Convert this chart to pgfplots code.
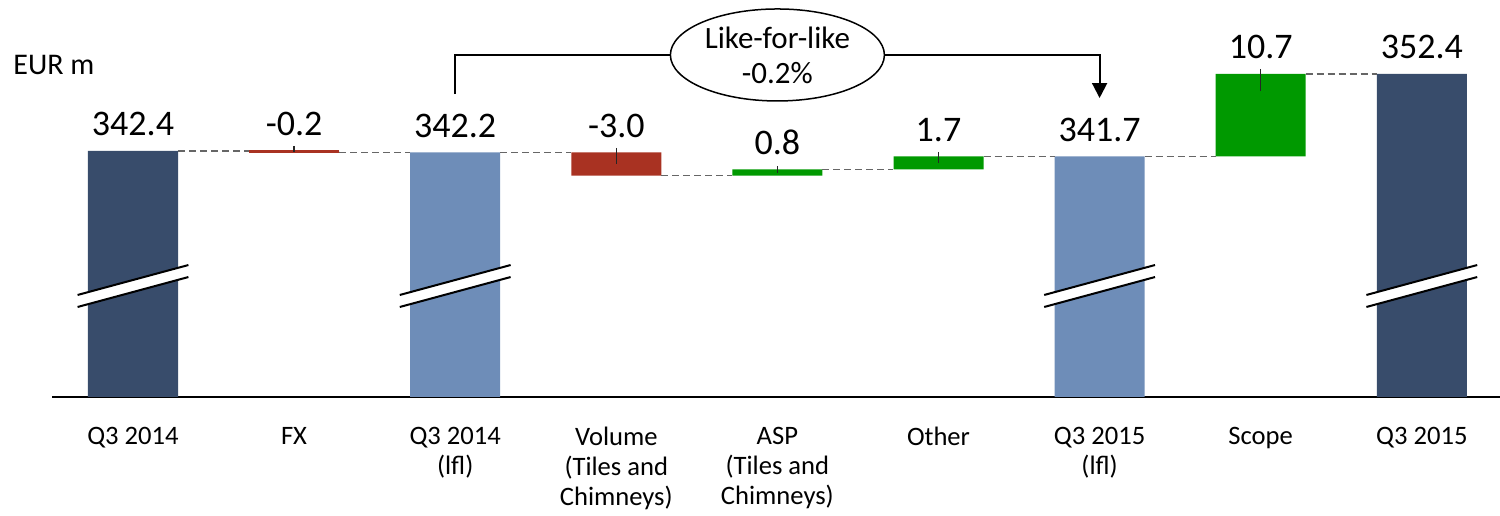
\documentclass[border=0pt]{standalone}
\usepackage{pgfplots}
\pgfplotsset{compat=1.18}
\usepackage{pgfplotstable}
\usepackage{fontspec}
\setmainfont{Carlito}
\usetikzlibrary{shapes.geometric, arrows.meta}
\definecolor{navy}{HTML}{384C6B}
\definecolor{lblue}{HTML}{6E8DB8}
\definecolor{wred}{HTML}{A93222}
\definecolor{wgreen}{HTML}{009900}
\definecolor{dgrey}{HTML}{666666}

\pgfplotsset{wfbase/.style={scale only axis, width=724pt, height=198.5pt,
  xmin=-0.5028, xmax=8.4854, ymin=310.45, ymax=362.01, at={(0,0)}, anchor=south west}}
\tikzset{
  conn/.style={dgrey, dash pattern=on 3.5pt off 2pt, line width=0.8pt},
  lead/.style={black!85, line width=0.75pt},
  vl/.style={anchor=base, yshift=7.5pt, font=\fontsize{18}{20}\selectfont, inner sep=0pt}
}

\pgfplotstableread{
x base dark light red green
0 0     342.4 0     0   0
1 342.2 0     0     0.2 0
2 0     0     342.2 0   0
3 339.2 0     0     3.0 0
4 339.2 0     0     0   0.8
5 340.0 0     0     0   1.7
6 0     0     341.7 0   0
7 341.7 0     0     0   10.7
8 0     352.4 0     0   0
}\wf

\begin{document}
\begin{tikzpicture}
\path[use as bounding box] (-26pt,-59pt) rectangle (724pt,198.5pt);
\begin{axis}[wfbase, ybar stacked, bar width=0.5587,
  axis x line*=bottom, axis y line=none,
  axis line style={line width=1pt, black},
  xtick={0,...,8},
  xticklabels={{Q3 2014},{FX},{Q3 2014\\(lfl)},{Volume\\(Tiles and\\Chimneys)},{ASP\\(Tiles and\\Chimneys)},{Other},{Q3 2015\\(lfl)},{Scope},{Q3 2015}},
  xticklabel style={align=center, font=\fontsize{13.3}{15}\selectfont, anchor=north, inner sep=0pt, yshift=-15pt},
  major tick length=0pt, ytick=\empty]
\addplot[draw=none, fill=none] table[x=x,y=base]{\wf};
\addplot[draw=none, fill=navy] table[x=x,y=dark]{\wf};
\addplot[draw=none, fill=lblue] table[x=x,y=light]{\wf};
\addplot[draw=none, fill=wred] table[x=x,y=red]{\wf};
\addplot[draw=none, fill=wgreen] table[x=x,y=green]{\wf};
\end{axis}
\begin{axis}[wfbase, hide axis, clip=false]
% thin FX bar made visible like the reference
\addplot[wred, line width=1.4pt] coordinates {(0.7206,342.3)(1.2794,342.3)};
% broken-axis marks
\addplot[fill=white, draw=none] coordinates {(-0.344,322.14)(0.344,326.03)(0.344,327.59)(-0.344,323.70)} -- cycle;
\addplot[fill=white, draw=none] coordinates {(1.656,322.14)(2.344,326.03)(2.344,327.59)(1.656,323.70)} -- cycle;
\addplot[fill=white, draw=none] coordinates {(5.656,322.14)(6.344,326.03)(6.344,327.59)(5.656,323.70)} -- cycle;
\addplot[fill=white, draw=none] coordinates {(7.656,322.14)(8.344,326.03)(8.344,327.59)(7.656,323.70)} -- cycle;
\addplot[black, line width=1pt] coordinates {(-0.344,322.14)(0.344,326.03)};
\addplot[black, line width=1pt] coordinates {(-0.344,323.70)(0.344,327.59)};
\addplot[black, line width=1pt] coordinates {(1.656,322.14)(2.344,326.03)};
\addplot[black, line width=1pt] coordinates {(1.656,323.70)(2.344,327.59)};
\addplot[black, line width=1pt] coordinates {(5.656,322.14)(6.344,326.03)};
\addplot[black, line width=1pt] coordinates {(5.656,323.70)(6.344,327.59)};
\addplot[black, line width=1pt] coordinates {(7.656,322.14)(8.344,326.03)};
\addplot[black, line width=1pt] coordinates {(7.656,323.70)(8.344,327.59)};
% connectors
\addplot[conn] coordinates {(0.2794,342.4)(0.7206,342.4)};
\addplot[conn] coordinates {(1.2794,342.2)(1.7206,342.2)};
\addplot[conn] coordinates {(2.2794,342.2)(2.7206,342.2)};
\addplot[conn] coordinates {(3.2794,339.2)(3.7206,339.2)};
\addplot[conn] coordinates {(4.2794,340.0)(4.7206,340.0)};
\addplot[conn] coordinates {(5.2794,341.7)(5.7206,341.7)};
\addplot[conn] coordinates {(6.2794,341.7)(6.7206,341.7)};
\addplot[conn] coordinates {(7.2794,352.4)(7.7206,352.4)};
% leader ticks
\addplot[lead] coordinates {(1,343.05)(1,342.27)};
\addplot[lead] coordinates {(3,342.79)(3,340.71)};
\addplot[lead] coordinates {(4,340.45)(4,339.54)};
\addplot[lead] coordinates {(5,342.27)(5,340.84)};
\addplot[lead] coordinates {(7,353.05)(7,350.19)};
% like-for-like bracket
\addplot[black, line width=1pt, -{Triangle[width=7.5pt,length=7.5pt]}] coordinates {(2,349.8)(2,354.87)(6,354.87)(6,349.28)};
\node[ellipse, draw, line width=0.75pt, fill=white, minimum width=107pt, minimum height=46pt,
  align=center, font=\fontsize{15.5}{17.5}\selectfont, inner sep=0pt] at (axis cs:4,354.87) {Like-for-like\\-0.2\%};
% value labels
\node[vl] at (axis cs:0,342.4) {342.4};
\node[vl] at (axis cs:1,342.4) {-0.2};
\node[vl] at (axis cs:2,342.2) {342.2};
\node[vl] at (axis cs:3,342.2) {-3.0};
\node[vl] at (axis cs:4,340.0) {0.8};
\node[vl] at (axis cs:5,341.7) {1.7};
\node[vl] at (axis cs:6,341.7) {341.7};
\node[vl] at (axis cs:7,352.4) {10.7};
\node[vl] at (axis cs:8,352.4) {352.4};
\end{axis}
\node[anchor=base west, font=\fontsize{15}{18}\selectfont, inner sep=0pt] at (-19.5pt,161pt) {EUR m};
\end{tikzpicture}
\end{document}
